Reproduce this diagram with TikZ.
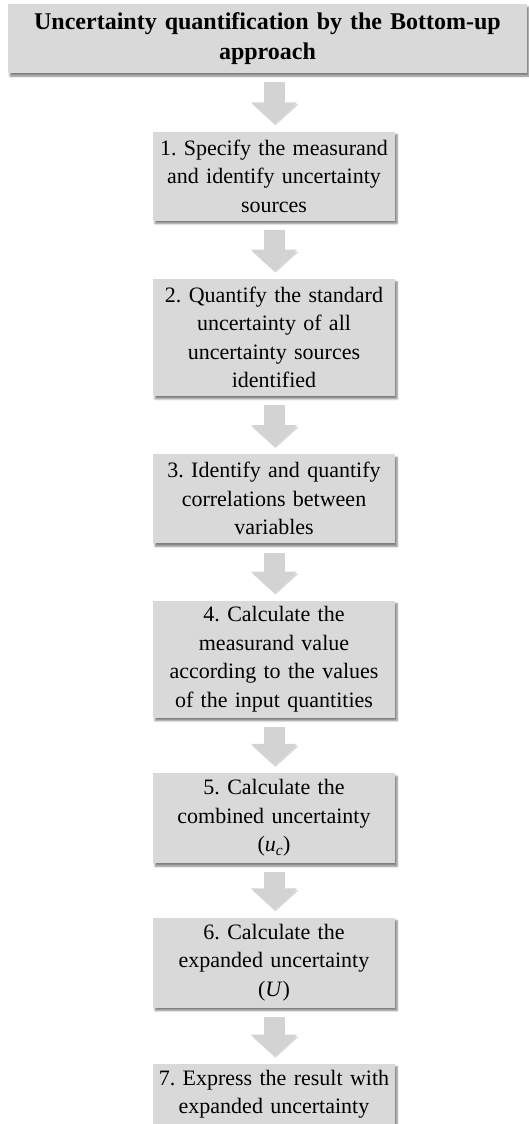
\documentclass[tikz,border=0pt]{standalone}
\usepackage{fontspec}
\setmainfont{Liberation Serif}
\usetikzlibrary{positioning,arrows.meta,shadows.blur}
\frenchspacing

\definecolor{boxgray}{RGB}{217,217,217}
\definecolor{arrowgray}{RGB}{211,211,211}

\tikzset{
  stepbox/.style={rectangle, fill=boxgray, minimum width=242pt, text width=236pt,
    align=center, inner sep=0pt, font=\fontsize{22}{28.5}\selectfont,
    blur shadow={shadow xshift=2pt, shadow yshift=-3pt, shadow blur steps=6, shadow opacity=50}},
  titlebox/.style={stepbox, minimum width=519pt, text width=510pt, minimum height=69pt,
    font=\fontsize{24}{30}\selectfont\bfseries},
  flow/.style={draw=arrowgray, line width=21pt, -{Triangle[width=45pt,length=21pt]},
    shorten <=9pt, shorten >=8pt,
    preaction={draw=black!45, opacity=.35, transform canvas={shift={(1.5pt,-2pt)}}}}
}

\begin{document}
\begin{tikzpicture}[x=1pt,y=1pt]

 \useasboundingbox (0,0) rectangle (529,-1124);

 %%%  nodes

 % heading
 \node [titlebox] (title) at (267.5,-38.5) {Uncertainty quantification by the Bottom-up\\approach};

 % steps
 \node [stepbox, minimum height=89pt] (s1) at (274,-176) {1. Specify the measurand\\and identify uncertainty\\sources};
 \node [stepbox, minimum height=117pt, below=58pt of s1] (s2) {2. Quantify the standard\\uncertainty of all\\uncertainty sources\\identified};
 \node [stepbox, minimum height=89pt, below=58pt of s2] (s3) {3. Identify and quantify\\correlations between\\variables};
 \node [stepbox, minimum height=117pt, below=57pt of s3] (s4) {4. Calculate the\\measurand value\\according to the values\\of the input quantities};
 \node [stepbox, minimum height=90pt, below=55pt of s4] (s5) {5. Calculate the\\combined uncertainty\\(\textit{u}\textsubscript{\textit{c}})};
 \node [stepbox, minimum height=90pt, below=54pt of s5] (s6) {6. Calculate the\\expanded uncertainty\\(\textit{U})};
 \node [stepbox, minimum height=61pt, below=56pt of s6] (s7) {7. Express the result with\\expanded uncertainty};

 %%%  arrows

 \draw [flow] (s1.north |- title.south) -- (s1);
 \draw [flow] (s1) -- (s2);
 \draw [flow] (s2) -- (s3);
 \draw [flow] (s3) -- (s4);
 \draw [flow] (s4) -- (s5);
 \draw [flow] (s5) -- (s6);
 \draw [flow] (s6) -- (s7);

\end{tikzpicture}
\end{document}
